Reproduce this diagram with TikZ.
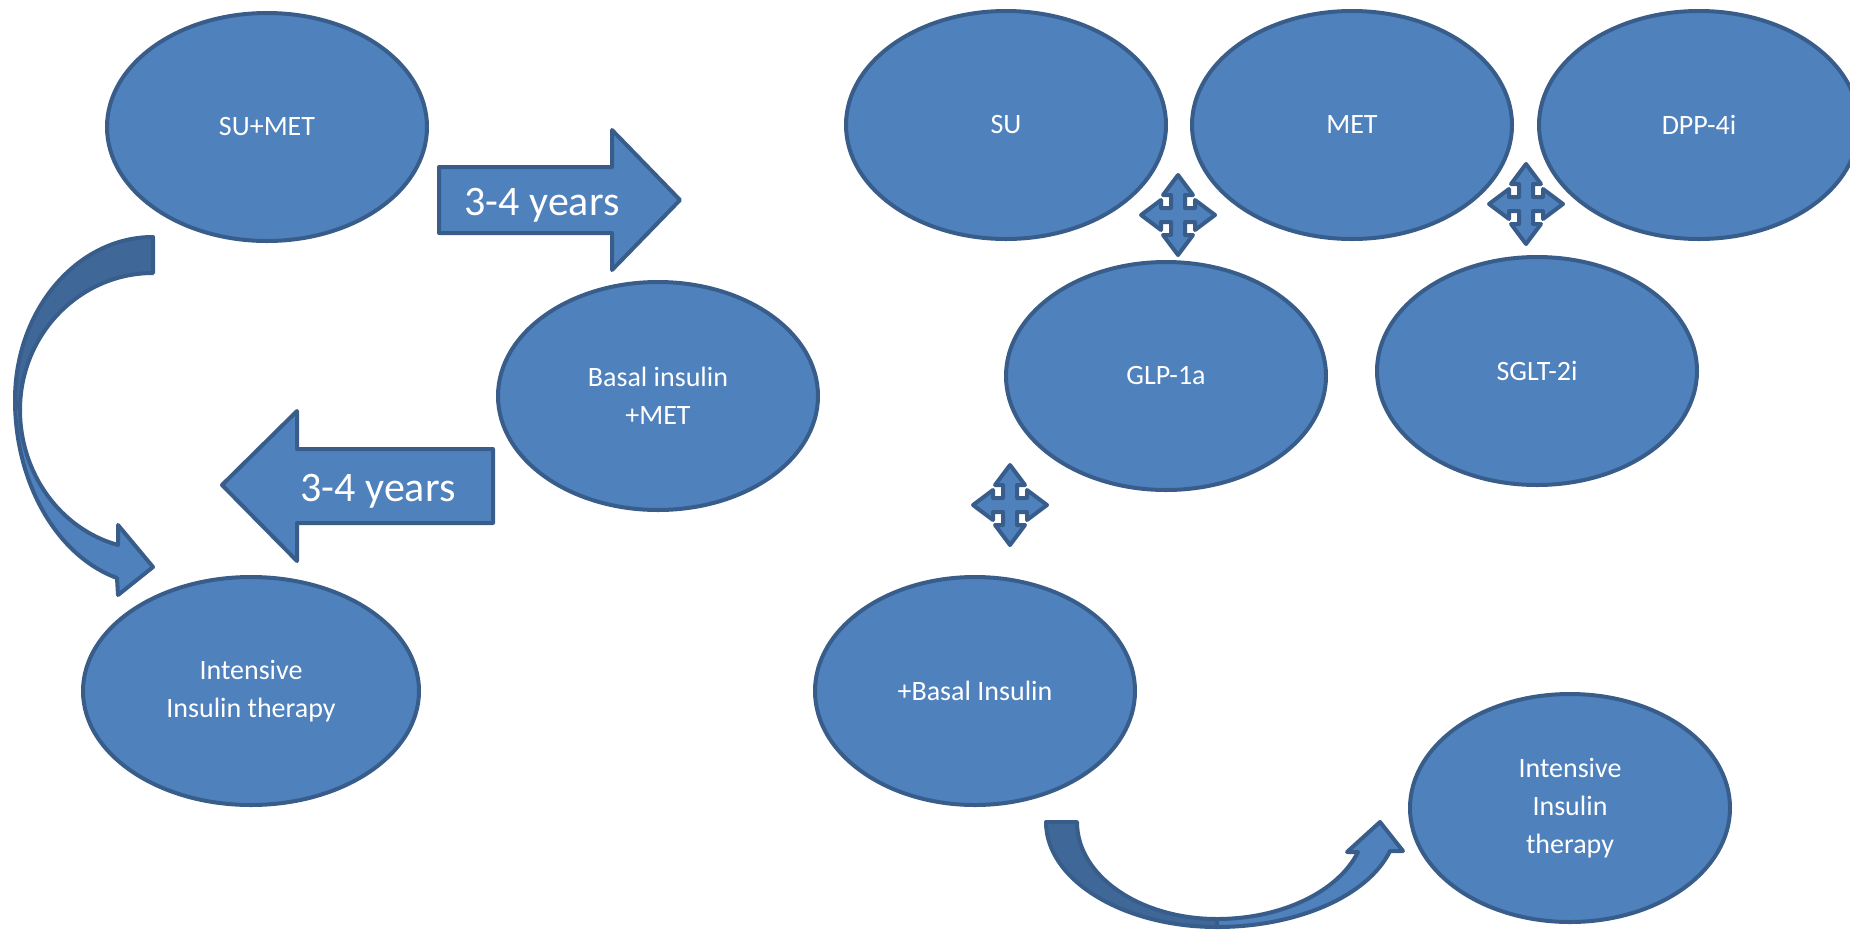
\documentclass[tikz,border=0pt]{standalone}
\usepackage{fontspec}
\setmainfont{Carlito}
\usepackage{tikz}
\usetikzlibrary{positioning,shapes.geometric}
\definecolor{pill}{RGB}{79,129,189}
\definecolor{rim}{RGB}{56,93,138}
\definecolor{backside}{RGB}{63,104,153}

\begin{document}
\begin{tikzpicture}[x=1pt,y=-1pt,line join=round,
  drug/.style={ellipse,draw=rim,fill=pill,line width=4pt,minimum width=320pt,minimum height=228pt,
               inner sep=0pt,text=white,align=center,font=\fontsize{28}{38}\selectfont},
  blk/.style={draw=rim,fill=pill,line width=4pt},
  backface/.style={draw=rim,fill=backside,line width=4pt},
  yrs/.style={text=white,inner sep=0pt,font=\fontsize{42}{50}\selectfont},
  quad/.pic={\path[blk] (0,-40) -- (15,-20) -- (7,-20) -- (7,-7) -- (17,-7) -- (17,-15) -- (37,0)
               -- (17,15) -- (17,7) -- (7,7) -- (7,20) -- (15,20) -- (0,40) -- (-15,20) -- (-7,20)
               -- (-7,7) -- (-17,7) -- (-17,15) -- (-37,0) -- (-17,-15) -- (-17,-7) -- (-7,-7)
               -- (-7,-20) -- (-15,-20) -- cycle;}]
  \clip (0,0) rectangle (1850,930);

  % ---------- left: old pathway ----------
  \path[backface] (153,237) .. controls (77,237) and (15,310) .. (15,400) -- (20,410)
      .. controls (20,334) and (80,273) .. (153,273) -- cycle;
  \path[blk] (15,400) .. controls (15,483) and (57,556) .. (117,578) -- (118,595) -- (153,567)
      -- (118,525) -- (118,545) .. controls (60,529) and (20,473) .. (20,410) -- cycle;
  \node[drug] (sumet) at (267,127) {SU+MET};
  \node[drug] (basal) at (658,396) {Basal insulin\\+MET};
  \node[drug,minimum width=336pt] (intl) at (251,691) {Intensive\\Insulin therapy};
  \path[blk] (439,167) -- (612,167) -- (612,130) -- (680,200) -- (612,270) -- (612,233) -- (439,233) -- cycle;
  \node[yrs] (yrsr) at (542,205) {3-4 years};
  \path[blk] (493,449) -- (297,449) -- (297,411) -- (222,485) -- (297,561) -- (297,523) -- (493,523) -- cycle;
  \node[yrs] (yrsl) at (378,491) {3-4 years};

  % ---------- right: current options ----------
  \node[drug] (su) at (1006,125) {SU};
  \node[drug,right=22pt of su] (met) {MET};
  \node[drug,right=23pt of met] (dpp) {DPP-4i};
  \node[drug] (glp) at (1166,376) {GLP-1a};
  \node[drug] (sglt) at (1537,371) {SGLT-2i};
  \node[drug] (plusbasal) at (975,691) {+Basal Insulin};
  \node[drug] (intr) at (1570,808) {Intensive\\Insulin\\therapy};
  \pic (qa) at (1178,215) {quad};
  \pic (qb) at (1526,204) {quad};
  \pic (qc) at (1010,505) {quad};
  \path[backface] (1046,822) .. controls (1046,880) and (1123,927) .. (1217,927) -- (1217,919)
      .. controls (1140,919) and (1077,876) .. (1077,822) -- cycle;
  \path[blk] (1217,927) .. controls (1297,927) and (1368,896) .. (1390,851) -- (1403,851) -- (1380,822)
      -- (1347,852) -- (1358,852) .. controls (1338,892) and (1281,919) .. (1217,919) -- cycle;
\end{tikzpicture}
\end{document}
